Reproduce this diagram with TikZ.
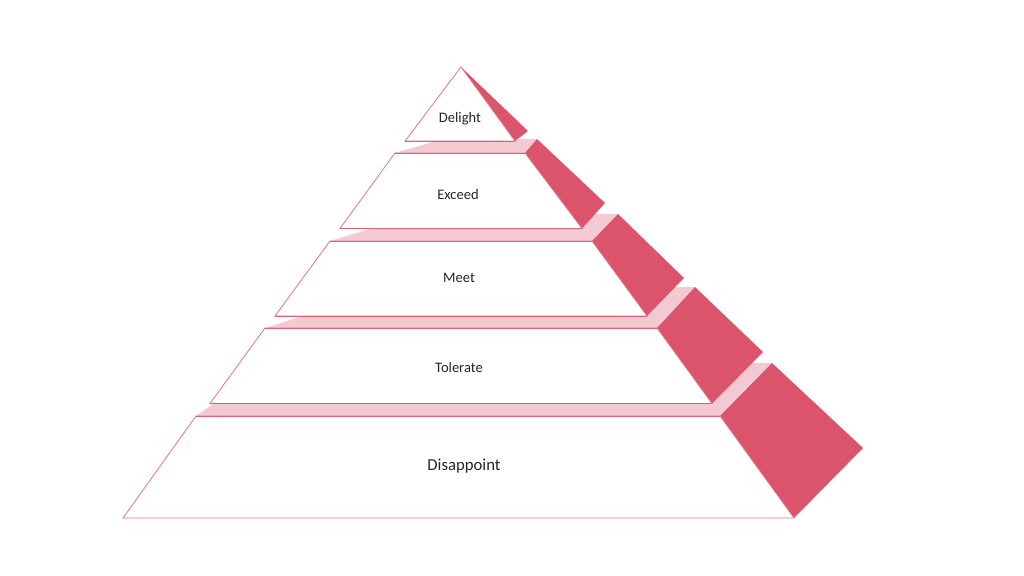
\documentclass[tikz,border=0pt]{standalone}
\usepackage{fontspec}
\setmainfont{Carlito}
\definecolor{edgec}{HTML}{E4758A}
\definecolor{edgedark}{HTML}{DE5F76}
\definecolor{sidec}{HTML}{DC546C}
\definecolor{topc}{HTML}{F4CAD2}
\definecolor{txtc}{HTML}{262626}
\tikzset{
  frontface/.style={fill=white, draw=edgec, line width=0.8bp, line join=miter},
  baseedge/.style={draw=edgedark, line width=0.9bp},
  sideface/.style={fill=sidec},
  topface/.style={fill=topc},
  lbl/.style={font=\fontsize{14.6}{17}\selectfont, text=txtc, inner sep=0pt},
  biglbl/.style={font=\fontsize{16.8}{19}\selectfont, text=txtc, inner sep=0pt}
}
\begin{document}
\begin{tikzpicture}[x=1bp, y=-1bp]
\useasboundingbox[fill=white] (0,0) rectangle (1024,576);

% ---- Disappoint (bottom slice)
\fill[topface] (196,416) -- (720,416) -- (772,363) -- (271,363) -- cycle;
\fill[sideface] (720,416) -- (772,363) -- (863,448) -- (794,518) -- cycle;
\draw[frontface] (196,416) -- (720,416) -- (794,518) -- (123,518) -- cycle;
\draw[baseedge] (196,416) -- (720,416);
\node[biglbl] (disappoint) at (464,466.5) {Disappoint};

% ---- Tolerate
\fill[topface] (265,328) -- (657,328) -- (695,287) -- (394,287) -- cycle;
\fill[sideface] (657,328) -- (695,287) -- (763,352) -- (712,403.5) -- cycle;
\draw[frontface] (265,328) -- (657,328) -- (712,403.5) -- (210,403.5) -- cycle;
\draw[baseedge] (265,328) -- (657,328) (712,403.5) -- (210,403.5);
\node[lbl] (tolerate) at (459,367.5) {Tolerate};

% ---- Meet
\fill[topface] (330,241) -- (592,241) -- (618,214) -- (420,214) -- cycle;
\fill[sideface] (592,241) -- (618,214) -- (684,278) -- (647,316) -- cycle;
\draw[frontface] (330,241) -- (592,241) -- (647,316) -- (275,316) -- cycle;
\draw[baseedge] (330,241) -- (592,241) (647,316) -- (275,316);
\node[lbl] (meet) at (459,278) {Meet};

% ---- Exceed
\fill[topface] (395,153) -- (525,153) -- (537,139) -- (443,139) -- cycle;
\fill[sideface] (525,153) -- (537,139) -- (605,203) -- (582,228.5) -- cycle;
\draw[frontface] (395,153) -- (525,153) -- (582,228.5) -- (340,228.5) -- cycle;
\draw[baseedge] (395,153) -- (525,153) (582,228.5) -- (340,228.5);
\node[lbl] (exceed) at (458,195) {Exceed};

% ---- Delight (apex)
\fill[sideface] (461,67) -- (528,131) -- (515,141) -- cycle;
\draw[frontface] (461,67) -- (515,141) -- (405,141) -- cycle;
\draw[baseedge] (515,141) -- (405,141);
\node[lbl] (delight) at (460,119) {Delight};
\end{tikzpicture}
\end{document}
